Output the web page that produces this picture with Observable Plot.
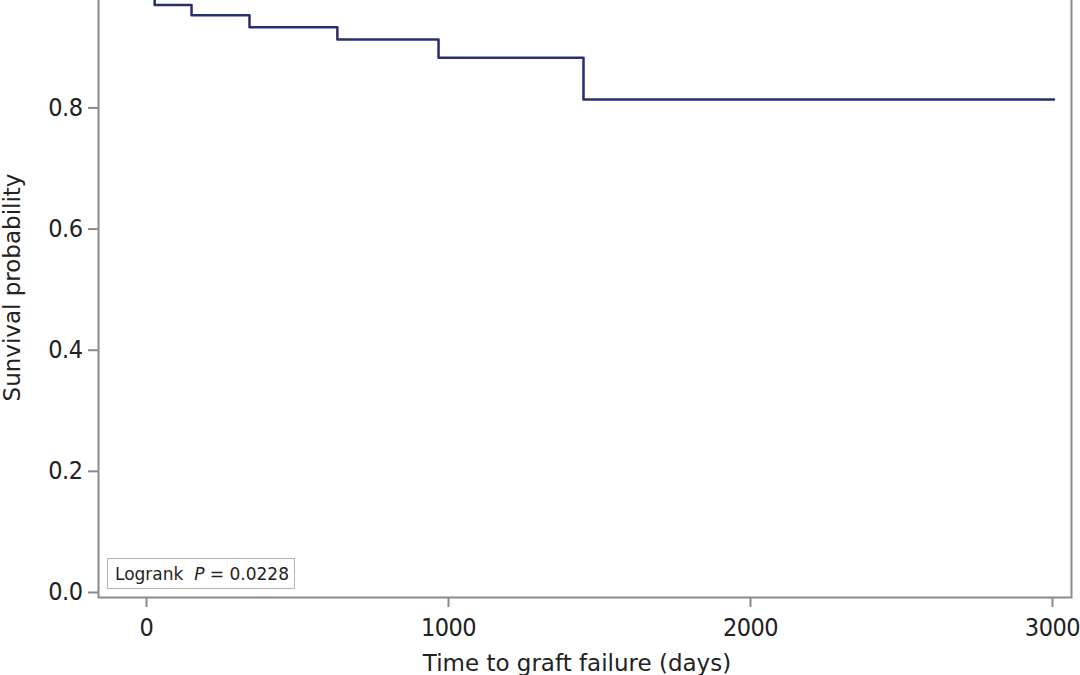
<!DOCTYPE html>
<html>
<head>
<meta charset="utf-8">
<script src="https://cdn.jsdelivr.net/npm/d3@7"></script>
<script src="https://cdn.jsdelivr.net/npm/@observablehq/plot@0.6"></script>
<style>
  html, body { margin: 0; padding: 0; background: #fff; }
  #wrap { position: relative; width: 1080px; height: 675px; overflow: hidden; }
  #chart { position: absolute; left: 0; top: -54px; }
  #chart svg { font-family: "DejaVu Sans Condensed", "DejaVu Sans", sans-serif; letter-spacing: -0.5px; }
  #chart svg text.axis-title { letter-spacing: 0; font-family: "DejaVu Sans", sans-serif; }
  #logrank {
    position: absolute; left: 107px; top: 558px; width: 186px; height: 29px;
    border: 1.5px solid #b4b4b4; box-sizing: content-box;
    font-family: "DejaVu Sans", sans-serif; font-size: 17px; color: #222;
    line-height: 30px; text-indent: 7px; white-space: pre; overflow: hidden;
  }
</style>
</head>
<body>
<div id="wrap">
  <div id="chart"></div>
  <div id="logrank">Logrank  <i>P</i> = 0.0228</div>
</div>
<script>
const days = [0, 27, 149, 341, 632, 967, 1447, 3005];
const survival = [1, 0.970, 0.953, 0.933, 0.913, 0.883, 0.814, 0.814];
const xTicks = [0, 1000, 2000, 3000];
const yTicks = [0, 0.2, 0.4, 0.6, 0.8];
const xTitle = "Time to graft failure (days)";
const yTitle = "Sunvival probability";

const data = days.map((d, i) => ({day: d, s: survival[i]}));

const plot = Plot.plot({
  width: 1080,
  height: 751,
  marginLeft: 98,
  marginRight: 9,
  marginTop: 10,
  marginBottom: 100,
  style: {fontSize: "25px", color: "#222", background: "#fff"},
  x: {domain: [-159, 3063], label: null},
  y: {domain: [-0.0083, 1.05], label: null},
  marks: [
    Plot.frame({stroke: "#8a8a8a", strokeWidth: 2}),
    Plot.axisX({ticks: xTicks, tickFormat: d3.format("d"), tickSize: 10, tickPadding: 11, stroke: "#8a8a8a", strokeWidth: 2, fill: "#222", label: null}),
    Plot.axisY({ticks: yTicks, tickFormat: d3.format(".1f"), tickSize: 10, tickPadding: 6, stroke: "#8a8a8a", strokeWidth: 2, fill: "#222", label: null}),
    Plot.line(data, {x: "day", y: "s", curve: "step-after", stroke: "#262f6e", strokeWidth: 2.5})
  ]
});

document.getElementById("chart").appendChild(plot);
const svg = d3.select(plot);

svg.append("text")
  .attr("class", "axis-title")
  .attr("x", 577).attr("y", 54 + 671)
  .attr("text-anchor", "middle")
  .attr("font-size", 23).attr("fill", "#222")
  .text(xTitle);

svg.append("text")
  .attr("class", "axis-title")
  .attr("transform", `translate(20, ${54 + 287.5}) rotate(-90)`)
  .attr("text-anchor", "middle")
  .attr("font-size", 23).attr("fill", "#222")
  .text(yTitle);
</script>
</body>
</html>
